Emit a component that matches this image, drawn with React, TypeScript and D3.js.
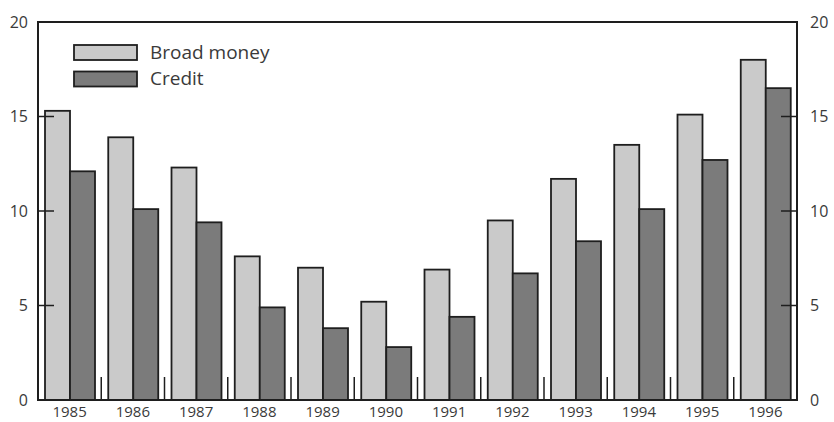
import React from "react";
import * as d3 from "d3";

const years = ["1985","1986","1987","1988","1989","1990","1991","1992","1993","1994","1995","1996"];
const broadMoney = [15.3, 13.9, 12.3, 7.6, 7.0, 5.2, 6.9, 9.5, 11.7, 13.5, 15.1, 18.0];
const credit = [12.1, 10.1, 9.4, 4.9, 3.8, 2.8, 4.4, 6.7, 8.4, 10.1, 12.7, 16.5];
const yTicks = [0, 5, 10, 15, 20];
const seriesNames = ["Broad money", "Credit"];
const colors = ["#cacaca", "#7b7b7b"];

export default function App() {
  const W = 834, H = 422;
  const left = 38, right = 797, top = 22, bottom = 400;
  const x = d3.scaleBand().domain(years).range([left, right]).paddingInner(0).paddingOuter(0);
  const y = d3.scaleLinear().domain([0, 20]).range([bottom, top]);
  const bw = x.bandwidth();
  const barW = 25;
  const offset = 7;
  const font = "'Open Sans', 'DejaVu Sans', sans-serif";
  const stroke = "#1e1e1e";
  const txt = "#3a3a3a";

  return (
    <svg width={W} height={H} style={{ position: "absolute", left: 0, top: 0, background: "#fff" }}>
      {years.map((yr, i) => {
        const x0 = (x(yr) as number) + offset;
        return (
          <g key={yr}>
            <rect x={x0} y={y(broadMoney[i])} width={barW} height={bottom - y(broadMoney[i])}
              fill={colors[0]} stroke={stroke} strokeWidth={1.8} />
            <rect x={x0 + barW} y={y(credit[i])} width={barW} height={bottom - y(credit[i])}
              fill={colors[1]} stroke={stroke} strokeWidth={1.8} />
          </g>
        );
      })}
      {years.slice(1).map((yr) => (
        <line key={"s" + yr} x1={x(yr) as number} x2={x(yr) as number} y1={bottom} y2={bottom - 23}
          stroke={stroke} strokeWidth={1.5} />
      ))}
      <rect x={left} y={top} width={right - left} height={bottom - top} fill="none" stroke={stroke} strokeWidth={2} />
      {yTicks.map((t) => (
        <g key={"t" + t}>
          {t > 0 && t < 20 && (
            <>
              <line x1={left} x2={left + 16} y1={y(t)} y2={y(t)} stroke={stroke} strokeWidth={1.5} />
              <line x1={right - 16} x2={right} y1={y(t)} y2={y(t)} stroke={stroke} strokeWidth={1.5} />
            </>
          )}
          <text x={28} y={y(t)} dy="0.35em" textAnchor="end" fontFamily={font} fontSize={16} fill={txt}>{t}</text>
          <text x={810} y={y(t)} dy="0.35em" textAnchor="start" fontFamily={font} fontSize={16} fill={txt}>{t}</text>
        </g>
      ))}
      {years.map((yr) => (
        <text key={"l" + yr} x={(x(yr) as number) + bw / 2} y={416.5} textAnchor="middle"
          fontFamily={font} fontSize={15} fill={txt}>{yr}</text>
      ))}
      {seriesNames.map((n, i) => (
        <g key={n}>
          <rect x={74} y={45 + i * 26.5} width={63} height={15} fill={colors[i]} stroke={stroke} strokeWidth={1.8} />
          <text x={150} y={52 + i * 26.5} dy="0.35em" fontFamily={font} fontSize={19} fill={txt}>{n}</text>
        </g>
      ))}
    </svg>
  );
}
